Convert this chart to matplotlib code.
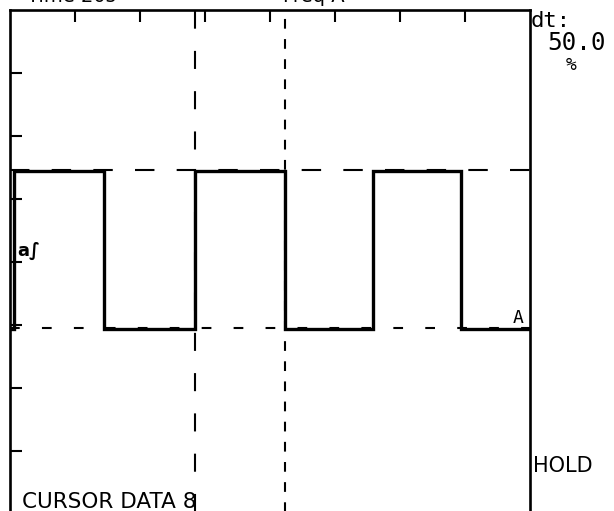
import matplotlib
matplotlib.use("Agg")
import matplotlib.pyplot as plt
from matplotlib.patches import Rectangle

plt.rcParams['lines.scale_dashes'] = False

# Square wave in divisions (8 x 8 grid)
edge_x = [0.062, 1.446, 2.846, 4.23, 5.585, 6.938]
level_high = 5.444
level_low = 2.937
start_level = "low"

# cursors (divisions)
cursor_x = [2.846, 4.23]
cursor_y = [5.46, 2.95]

tick_pos = [1, 2, 3, 4, 5, 6, 7]

top_labels = ["Time 20s", "Freq A"]
side_labels = ["dt:", "50.0", "%"]
hold_label = "HOLD"
cursor_label = "CURSOR DATA 8"

W, H = 614, 511
fig = plt.figure(figsize=(W / 100, H / 100), dpi=100)
ax = fig.add_axes([10 / W, (H - 514) / H, 520 / W, 504 / H])
ax.set_xlim(0, 8)
ax.set_ylim(0, 8)

for s in ax.spines.values():
    s.set_linewidth(1.9)
    s.set_color("black")

ax.set_xticks(tick_pos)
ax.set_yticks(tick_pos)
ax.tick_params(direction="in", length=8.5, width=1.5, top=True, bottom=False,
               left=True, right=False, labelbottom=False, labelleft=False)

# build the step trace from the edge list
xs, ys = [0.0], []
lev = level_low if start_level == "low" else level_high
ys.append(lev)
for e in edge_x:
    xs += [e, e]
    ys.append(lev)
    lev = level_high if lev == level_low else level_low
    ys.append(lev)
xs.append(8.0)
ys.append(lev)
ax.plot(xs, ys, color="black", lw=2.4, solid_joinstyle="miter", zorder=3)

# cursors
ax.axvline(cursor_x[0], color="black", lw=1.5, dashes=(13, 16), zorder=2)
ax.axvline(cursor_x[1], color="black", lw=1.5, dashes=(7, 7.5), zorder=2)
ax.axhline(cursor_y[0], color="black", lw=1.5, dashes=(14, 16), zorder=2)
ax.axhline(cursor_y[1], color="black", lw=1.5, dashes=(7, 16), zorder=2)

# channel markers
ax.text(0.11, 8 - (256 - 10) / 63, "a\u222b", fontsize=13, family="DejaVu Sans",
        fontweight="bold", va="baseline", ha="left")
ax.text(7.82, 8 - (323 - 10) / 63, "A", fontsize=13, family="DejaVu Sans Mono",
        va="baseline", ha="center")


def fx(x):
    return x / W


def fy(y):
    return 1 - y / H


fig.text(fx(27), fy(2.5), top_labels[0], fontsize=14, family="DejaVu Sans", va="baseline")
fig.text(fx(283), fy(2.5), top_labels[1], fontsize=14, family="DejaVu Sans", va="baseline")

fig.text(fx(531), fy(27), side_labels[0], fontsize=16, family="DejaVu Sans Mono", va="baseline")
fig.text(fx(547), fy(50), side_labels[1], fontsize=17.5, family="DejaVu Sans Mono", va="baseline")
fig.text(fx(571), fy(70), side_labels[2], fontsize=13, family="DejaVu Sans Mono",
         va="baseline", ha="center")
fig.text(fx(533), fy(472), hold_label, fontsize=15, family="DejaVu Sans", va="baseline")

t = fig.text(fx(22), fy(508), cursor_label, fontsize=15.5, family="DejaVu Sans", va="baseline")
clip = Rectangle((0, 0), 195 / W, 1, transform=fig.transFigure)
t.set_clip_path(clip)

fig.savefig("out.png", dpi=100)
